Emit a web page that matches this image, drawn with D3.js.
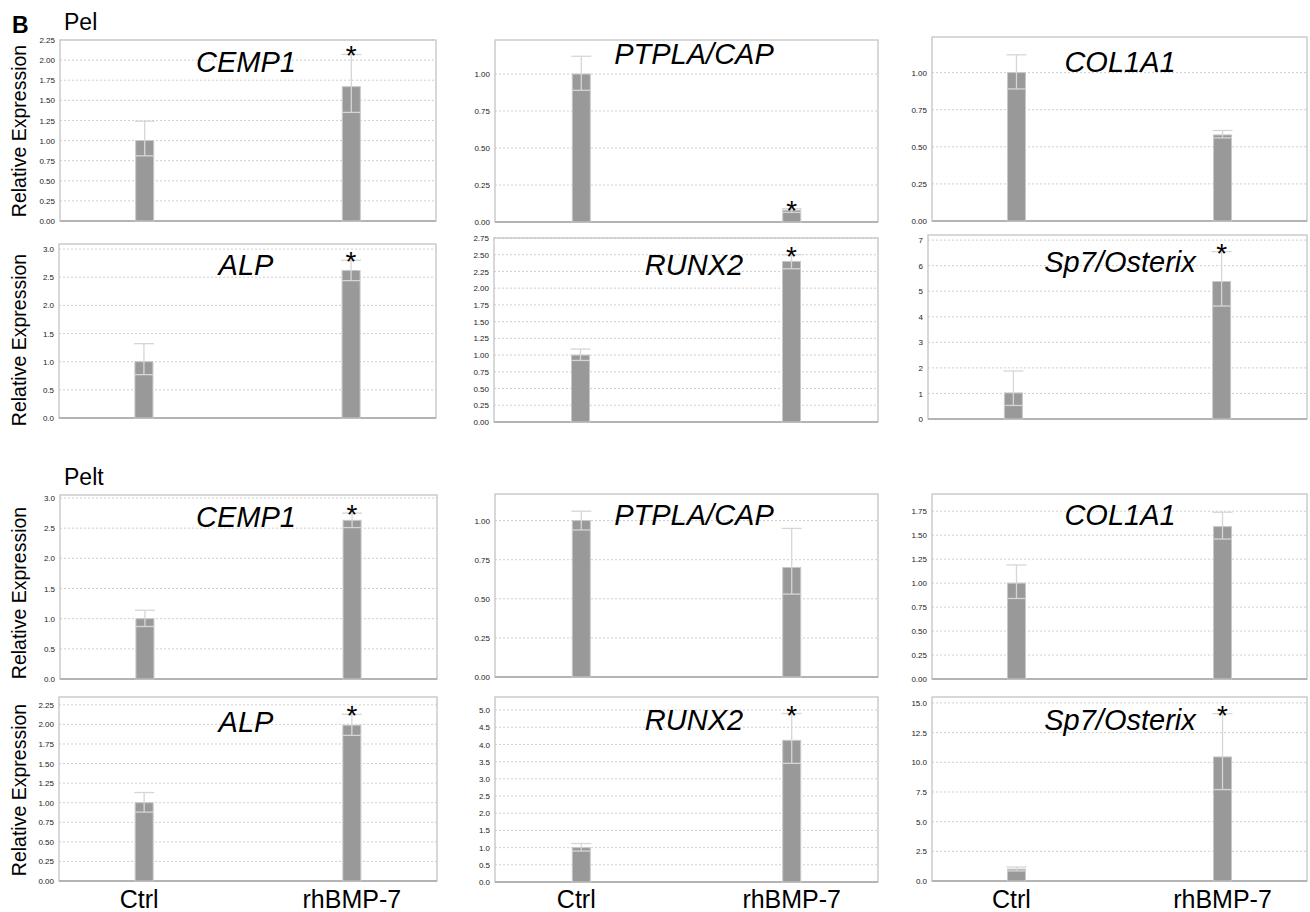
<!DOCTYPE html>
<html>
<head>
<meta charset="utf-8">
<script src="https://cdn.jsdelivr.net/npm/d3@7"></script>
<style>
  body { margin: 0; background: #fff; }
  svg { display: block; font-family: "Liberation Sans", Arial, sans-serif; }
</style>
</head>
<body>
<div id="chart"></div>
<script>
// ---- data ----
const conditions = ["Ctrl", "rhBMP-7"];
const genes = ["CEMP1", "PTPLA/CAP", "COL1A1", "ALP", "RUNX2", "Sp7/Osterix"];
const cellLines = ["Pel", "Pelt"];

// one row per gene, [Ctrl, rhBMP-7]
const pelMean  = [[1.00, 1.67], [1.00, 0.08], [1.00, 0.58], [1.00, 2.62], [1.00, 2.40], [1.02, 5.38]];
const pelUpper = [[1.24, 2.07], [1.12, 0.09], [1.12, 0.61], [1.32, 2.80], [1.09, 2.50], [1.88, 6.55]];
const pelLower = [[0.81, 1.35], [0.89, 0.065], [0.89, 0.56], [0.77, 2.44], [0.92, 2.29], [0.53, 4.42]];
const pelStar  = [true, true, false, true, true, true];

const peltMean  = [[1.00, 2.63], [1.00, 0.70], [1.00, 1.59], [1.00, 1.99], [1.00, 4.12], [1.00, 10.45]];
const peltUpper = [[1.14, 2.75], [1.06, 0.95], [1.19, 1.74], [1.13, 2.13], [1.12, 4.90], [1.18, 14.1]];
const peltLower = [[0.87, 2.51], [0.94, 0.53], [0.84, 1.46], [0.88, 1.86], [0.90, 3.45], [0.85, 7.7]];
const peltStar  = [true, false, false, true, true, true];

// y axis per panel (Pel genes, then Pelt genes)
const yMax     = [2.25, 1.23, 1.24, 3.09, 2.75, 7.2, 3.05, 1.17, 1.93, 2.35, 5.38, 15.5];
const tickStep = [0.25, 0.25, 0.25, 0.5, 0.25, 1, 0.5, 0.25, 0.25, 0.25, 0.5, 2.5];

// ---- layout ----
const W = 1310, H = 912;
// [left, right, top, bottom] of each plot box
const boxes = [
  [60, 436, 40, 221], [495, 878, 40, 222], [932, 1307, 37, 221],
  [59, 436, 244, 418], [494, 878, 238, 422], [928, 1307, 235, 419],
  [60, 437, 495, 679], [495, 878, 494, 677], [932, 1307, 494, 679],
  [59, 437, 697, 881], [495, 878, 697, 882], [932, 1307, 697, 881]
];
const titleX = [246, 694, 1120];
const titleY = [72, 64, 72, 275, 275, 272, 527, 525, 525, 732, 730, 730];
const ylabelY = [131, 340, 593, 790];
const groupLabelY = [30, 485];

const svg = d3.select("#chart").append("svg")
  .attr("width", W)
  .attr("height", H);

svg.append("rect").attr("width", W).attr("height", H).attr("fill", "#fff");

const panels = [];
cellLines.forEach((line, li) => {
  const mean = li === 0 ? pelMean : peltMean;
  const upper = li === 0 ? pelUpper : peltUpper;
  const lower = li === 0 ? pelLower : peltLower;
  const star = li === 0 ? pelStar : peltStar;
  genes.forEach((g, gi) => {
    panels.push({
      gene: g,
      col: gi % 3,
      values: conditions.map((c, ci) => ({
        cond: c, mean: mean[gi][ci], upper: upper[gi][ci], lower: lower[gi][ci],
        star: ci === 1 && star[gi]
      }))
    });
  });
});

const barW = 18, capW = 20;

panels.forEach((p, i) => {
  const [x0, x1, y0, y1] = boxes[i];
  const g = svg.append("g");

  const x = d3.scalePoint().domain(conditions).range([x0, x1]).padding(0.41);
  const y = d3.scaleLinear().domain([0, yMax[i]]).range([y1, y0]);

  const step = tickStep[i];
  const ticks = d3.range(0, yMax[i] + 1e-9, step).map(v => +v.toFixed(3));
  const fmt = step === 1 ? d3.format("d") : (step * 100 % 50 === 0 ? d3.format(".1f") : d3.format(".2f"));

  // gridlines
  g.selectAll(".grid")
    .data(ticks.filter(t => t > 0))
    .enter().append("line")
    .attr("x1", x0).attr("x2", x1)
    .attr("y1", d => y(d)).attr("y2", d => y(d))
    .attr("stroke", "#cfcfcf")
    .attr("stroke-dasharray", "2,2");

  // plot box
  g.append("rect")
    .attr("x", x0).attr("y", y0)
    .attr("width", x1 - x0).attr("height", y1 - y0)
    .attr("fill", "none")
    .attr("stroke", "#c4c4c4")
    .attr("stroke-width", 1.3);

  g.append("line")
    .attr("x1", x0).attr("x2", x1).attr("y1", y1).attr("y2", y1)
    .attr("stroke", "#a8a8a8").attr("stroke-width", 1.5);

  // y axis labels
  const axis = g.append("g")
    .attr("transform", `translate(${x0},0)`)
    .call(d3.axisLeft(y).tickValues(ticks).tickSize(0).tickPadding(5).tickFormat(fmt));
  axis.select(".domain").remove();
  axis.selectAll("text")
    .attr("font-size", "8px")
    .attr("font-family", "Liberation Sans, Arial, sans-serif")
    .attr("fill", "#222");

  // bars
  g.selectAll(".bar")
    .data(p.values)
    .enter().append("rect")
    .attr("x", d => x(d.cond) - barW / 2)
    .attr("y", d => y(d.mean))
    .attr("width", barW)
    .attr("height", d => y(0) - y(d.mean))
    .attr("fill", "#999")
    .attr("stroke", "#c8c8c8")
    .attr("stroke-width", 1);

  // error bars
  const err = g.selectAll(".err").data(p.values).enter().append("g");
  err.append("line")
    .attr("x1", d => x(d.cond)).attr("x2", d => x(d.cond))
    .attr("y1", d => y(d.lower)).attr("y2", d => y(d.upper))
    .attr("stroke", "#d6d6d6").attr("stroke-width", 1.3);
  err.append("line")
    .attr("x1", d => x(d.cond) - capW / 2).attr("x2", d => x(d.cond) + capW / 2)
    .attr("y1", d => y(d.upper)).attr("y2", d => y(d.upper))
    .attr("stroke", "#d6d6d6").attr("stroke-width", 1.3);
  err.append("line")
    .attr("x1", d => x(d.cond) - barW / 2).attr("x2", d => x(d.cond) + barW / 2)
    .attr("y1", d => y(d.lower)).attr("y2", d => y(d.lower))
    .attr("stroke", "#d6d6d6").attr("stroke-width", 1.3);

  // significance
  g.selectAll(".star")
    .data(p.values.filter(d => d.star))
    .enter().append("text")
    .attr("x", d => x(d.cond))
    .attr("y", d => y(d.upper) + 11)
    .attr("text-anchor", "middle")
    .attr("font-size", "28px")
    .attr("fill", "#000")
    .text("*");

  // gene title
  g.append("text")
    .attr("x", titleX[p.col])
    .attr("y", titleY[i])
    .attr("text-anchor", "middle")
    .attr("font-size", "29px")
    .attr("font-style", "italic")
    .attr("fill", "#000")
    .text(p.gene);

  // condition labels under the last row
  if (i >= 9) {
    g.selectAll(".xl")
      .data(conditions)
      .enter().append("text")
      .attr("x", (d, k) => x(d) + (k === 0 ? -5 : 0))
      .attr("y", 908)
      .attr("text-anchor", "middle")
      .attr("font-size", "25px")
      .attr("fill", "#000")
      .text(d => d);
  }
});

// y axis titles
ylabelY.forEach(cy => {
  svg.append("text")
    .attr("transform", `translate(26,${cy}) rotate(-90)`)
    .attr("text-anchor", "middle")
    .attr("font-size", "19.5px")
    .attr("fill", "#000")
    .text("Relative Expression");
});

// panel letter and cell line labels
svg.append("text")
  .attr("x", 12).attr("y", 33)
  .attr("font-size", "23px")
  .attr("font-weight", "bold")
  .text("B");

cellLines.forEach((c, k) => {
  svg.append("text")
    .attr("x", 64).attr("y", groupLabelY[k])
    .attr("font-size", "23px")
    .text(c);
});
</script>
</body>
</html>
